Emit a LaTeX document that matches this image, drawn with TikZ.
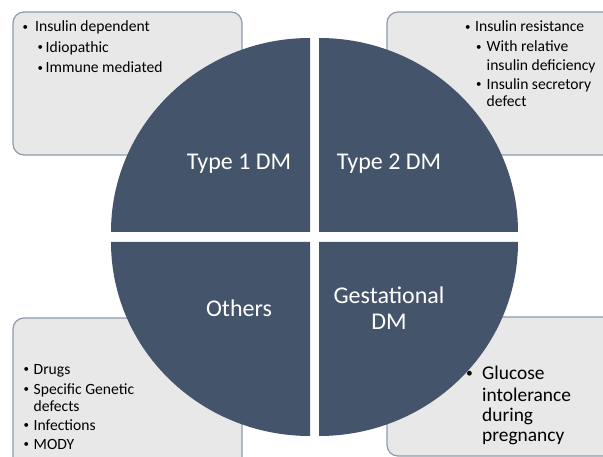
\documentclass[tikz,border=0pt]{standalone}
\usepackage{fontspec}
\setmainfont{Carlito}
\definecolor{pie}{HTML}{44546A}
\definecolor{boxfill}{HTML}{E8E8E8}
\definecolor{boxline}{HTML}{8E9AAB}
\newcommand{\bul}[1]{\makebox[#1][l]{\raisebox{0.12em}{\scalebox{0.7}{\textbullet}}}}
\begin{document}
\begin{tikzpicture}[x=1pt,y=-1pt,
  infobox/.style={fill=boxfill,draw=boxline,line width=1.2pt,rounded corners=11pt},
  quad/.style={fill=pie},
  txt/.style={anchor=base west,inner sep=0pt,text=black,font=\fontsize{15.6}{18}\selectfont},
  bigtxt/.style={anchor=base west,inner sep=0pt,text=black,font=\fontsize{19.4}{22}\selectfont},
  lbl/.style={anchor=base,inner sep=0pt,text=white,font=\fontsize{24}{28}\selectfont}]
\useasboundingbox (0,0) rectangle (603,457);
\clip (0,0) rectangle (603,457);
\fill[white] (0,0) rectangle (603,457);
% boxes
\draw[infobox] (13,12) rectangle (242,155);
\draw[infobox] (387,12) rectangle (625,155);
\draw[infobox] (13,318) rectangle (242,475);
\draw[infobox] (387,317) rectangle (625,456);
% quadrants
\fill[quad] (310,232) -- (111,232) arc[start angle=180,end angle=270,x radius=199,y radius=194] -- cycle;
\fill[quad] (319,232) -- (518,232) arc[start angle=0,end angle=-90,x radius=199,y radius=194] -- cycle;
\fill[quad] (310,242) -- (111,242) arc[start angle=180,end angle=90,x radius=199,y radius=194] -- cycle;
\fill[quad] (319,242) -- (518,242) arc[start angle=0,end angle=90,x radius=199,y radius=194] -- cycle;
% labels
\node[lbl] (t1) at (239,170) {Type 1 DM};
\node[lbl] (t2) at (389,170) {Type 2 DM};
\node[lbl] (ot) at (239,317) {Others};
\node[lbl] (g1) at (389,304) {Gestational};
\node[lbl] (g2) at (389,330) {DM};
% top-left text
\node[txt] (a1) at (22.5,32) {\bul{12.5pt}Insulin dependent};
\node[txt] (a2) at (37.5,52.5) {\bul{8pt}Idiopathic};
\node[txt] (a3) at (37.5,73) {\bul{8pt}Immune mediated};
% top-right text
\node[txt] (b1) at (465,32) {\bul{10pt}Insulin resistance};
\node[txt] (b2) at (476,52) {\bul{10.5pt}With relative};
\node[txt] (b3) at (486.5,70.5) {insulin deficiency};
\node[txt] (b4) at (476,89.5) {\bul{10.5pt}Insulin secretory};
\node[txt] (b5) at (486.5,106.5) {defect};
% bottom-left text
\node[txt] (c1) at (23.5,374) {\bul{10pt}Drugs};
\node[txt] (c2) at (23.5,394) {\bul{10pt}Specific Genetic};
\node[txt] (c3) at (33.5,411) {defects};
\node[txt] (c4) at (23.5,430) {\bul{10pt}Infections};
\node[txt] (c5) at (23.5,449) {\bul{10pt}MODY};
% bottom-right text
\node[bigtxt] (d1) at (466,380) {\bul{16pt}Glucose};
\node[bigtxt] (d2) at (482,401) {intolerance};
\node[bigtxt] (d3) at (482,421) {during};
\node[bigtxt] (d4) at (482,441) {pregnancy};
\end{tikzpicture}
\end{document}
